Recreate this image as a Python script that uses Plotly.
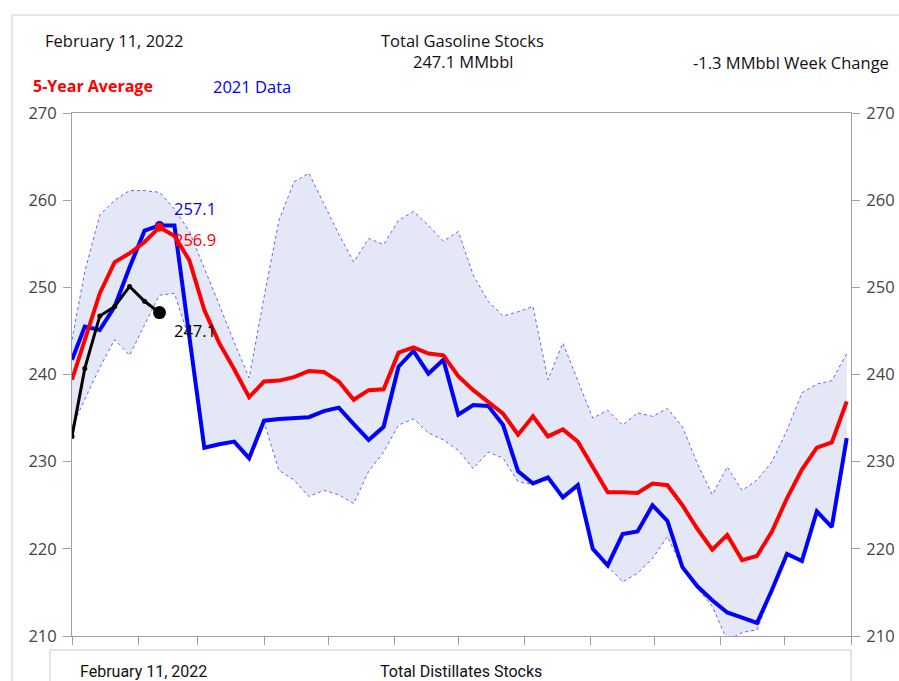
import pandas as pd
import plotly.graph_objects as go

# ---------------- data ----------------
# 2021 weekly data and 5-year stats, aligned to the 2022 calendar (first point Jan 1, then Fridays)
week_dates = [pd.Timestamp("2022-01-01")] + list(pd.date_range("2022-01-07", periods=52, freq="7D"))

data_2021 = [241.7,
             245.5, 245.1, 247.8, 252.3, 256.5, 257.1, 257.1, 244.3, 231.6, 232.0,
             232.3, 230.4, 234.7, 234.9, 235.0, 235.1, 235.8, 236.2, 234.3, 232.5,
             234.0, 240.9, 242.7, 240.1, 241.7, 235.4, 236.5, 236.4, 234.2, 228.9,
             227.5, 228.2, 225.9, 227.3, 220.0, 218.1, 221.7, 222.0, 225.0, 223.2,
             217.9, 215.7, 214.1, 212.7, 212.1, 211.5, 215.3, 219.4, 218.6, 224.3,
             222.5, 232.7]

avg_5yr = [239.4,
           243.9, 249.3, 252.9, 253.9, 255.2, 256.9, 255.9, 253.1, 247.4, 243.6,
           240.6, 237.4, 239.2, 239.3, 239.7, 240.4, 240.3, 239.2, 237.1, 238.2,
           238.3, 242.5, 243.1, 242.4, 242.2, 239.8, 238.2, 236.9, 235.5, 233.1,
           235.2, 232.9, 233.7, 232.3, 229.4, 226.5, 226.5, 226.4, 227.5, 227.3,
           225.0, 222.3, 219.9, 221.6, 218.7, 219.2, 222.0, 225.8, 229.1, 231.6,
           232.2, 236.9]

range_max = [244.0,
             251.8, 258.3, 260.0, 261.1, 261.1, 260.9, 259.0, 256.4, 252.3, 248.0,
             243.7, 239.6, 248.9, 257.7, 262.1, 263.1, 259.6, 256.1, 252.9, 255.6,
             254.9, 257.7, 258.7, 257.1, 255.3, 256.4, 251.4, 248.4, 246.7, 247.2,
             247.8, 239.4, 243.6, 239.4, 235.0, 235.9, 234.2, 235.6, 235.2, 236.1,
             234.0, 229.8, 226.2, 229.4, 226.7, 227.9, 230.0, 233.6, 237.9, 238.9,
             239.3, 242.4]

range_min = [234.0,
             237.2, 240.8, 244.0, 242.2, 245.7, 249.1, 249.3, 244.0, 231.5, 231.9,
             232.2, 230.3, 234.5, 229.0, 227.9, 226.0, 226.7, 226.2, 225.2, 228.9,
             231.1, 234.2, 234.9, 233.3, 232.5, 231.3, 229.2, 231.1, 230.4, 227.7,
             227.4, 227.9, 225.8, 227.1, 219.9, 218.0, 216.2, 217.2, 218.9, 221.4,
             217.8, 215.5, 213.4, 209.5, 210.4, 210.7, 215.2, 219.3, 218.5, 224.2,
             222.4, 232.5]

dates_2022 = ["2022-01-01", "2022-01-07", "2022-01-14", "2022-01-21",
              "2022-01-28", "2022-02-04", "2022-02-11"]
data_2022 = [232.9, 240.7, 246.7, 247.8, 250.1, 248.4, 247.1]

month_ticks = [f"2022-{m:02d}-01" for m in range(1, 13)] + ["2023-01-01"]
y_ticks = [210, 220, 230, 240, 250, 260, 270]

report_date = "February 11, 2022"
latest_date = "2022-02-11"
week_change = data_2022[-1] - data_2022[-2]

# ---------------- figure ----------------
BLUE = "#0000FF"
RED = "#FF0000"
BAND = "rgba(205,212,238,0.55)"
DOT = "rgba(70,70,255,0.85)"
AXC = "#a0a0a0"
FONT = "Open Sans, Noto Sans, DejaVu Sans, sans-serif"
HS = 16.5

fig = go.Figure()

fig.add_trace(go.Scatter(x=week_dates, y=range_min, mode="lines",
                         line=dict(color=DOT, width=1, dash="dot"),
                         hoverinfo="skip", showlegend=False))
fig.add_trace(go.Scatter(x=week_dates, y=range_max, mode="lines", fill="tonexty",
                         fillcolor=BAND,
                         line=dict(color=DOT, width=1, dash="dot"),
                         hoverinfo="skip", showlegend=False))

fig.add_trace(go.Scatter(x=week_dates, y=data_2021, mode="lines",
                         line=dict(color=BLUE, width=4), name="2021 Data",
                         showlegend=False))

idx = [d.strftime("%Y-%m-%d") for d in week_dates].index(latest_date)
fig.add_trace(go.Scatter(x=[week_dates[idx]], y=[data_2021[idx]], mode="markers",
                         marker=dict(color=BLUE, size=9), showlegend=False,
                         hoverinfo="skip"))

fig.add_trace(go.Scatter(x=week_dates, y=avg_5yr, mode="lines",
                         line=dict(color=RED, width=4), name="5-Year Average",
                         showlegend=False))
fig.add_trace(go.Scatter(x=[week_dates[idx]], y=[avg_5yr[idx]], mode="markers",
                         marker=dict(color=RED, size=9), showlegend=False,
                         hoverinfo="skip"))

fig.add_trace(go.Scatter(x=dates_2022, y=data_2022, mode="lines+markers",
                         line=dict(color="black", width=3),
                         marker=dict(color="black", size=5),
                         showlegend=False))
fig.add_trace(go.Scatter(x=[dates_2022[-1]], y=[data_2022[-1]], mode="markers",
                         marker=dict(color="black", size=13), showlegend=False))

# dummy trace for right axis
fig.add_trace(go.Scatter(x=[dates_2022[0]], y=[None], yaxis="y2",
                         mode="markers", showlegend=False, hoverinfo="skip"))

# value labels
fig.add_annotation(x=latest_date, y=data_2021[idx], text=f"{data_2021[idx]:.1f}",
                   showarrow=False, xanchor="left", yanchor="middle",
                   xshift=12, yshift=17, font=dict(color=BLUE, size=HS, family=FONT))
fig.add_annotation(x=latest_date, y=avg_5yr[idx], text=f"{avg_5yr[idx]:.1f}",
                   showarrow=False, xanchor="left", yanchor="middle",
                   xshift=12, yshift=-12, font=dict(color=RED, size=HS, family=FONT))
fig.add_annotation(x=dates_2022[-1], y=data_2022[-1], text=f"{data_2022[-1]:.1f}",
                   showarrow=False, xanchor="left", yanchor="middle",
                   xshift=12, yshift=-18, font=dict(color="black", size=HS, family=FONT))

# header texts (paper coords derived from pixel layout)
L, R, T, B = 72, 851, 113, 636
W, H = R - L, B - T
def px(x):
    return (x - L) / W
def py(y):
    return (B - y) / H

hdr = dict(showarrow=False, xref="paper", yref="paper", yanchor="middle")
fig.add_annotation(x=px(43), y=py(41), text=report_date, xanchor="left",
                   font=dict(size=HS, color="#111", family=FONT), **hdr)
fig.add_annotation(x=px(463), y=py(41), text="Total Gasoline Stocks", xanchor="center",
                   font=dict(size=HS, color="#111", family=FONT), **hdr)
fig.add_annotation(x=px(463), y=py(62), text=f"{data_2022[-1]:.1f} MMbbl", xanchor="center",
                   font=dict(size=HS, color="#111", family=FONT), **hdr)
fig.add_annotation(x=px(891), y=py(63), text=f"{week_change:.1f} MMbbl Week Change",
                   xanchor="right", font=dict(size=HS, color="#111", family=FONT), **hdr)
fig.add_annotation(x=px(31), y=py(86), text="<b>5-Year Average</b>", xanchor="left",
                   font=dict(size=16, color=RED, family=FONT), **hdr)
fig.add_annotation(x=px(211), y=py(86), text="2021 Data", xanchor="left",
                   font=dict(size=HS, color=BLUE, family=FONT), **hdr)

# next panel peeking in at the bottom
NFONT = "Liberation Sans Narrow, Roboto, sans-serif"
fig.add_annotation(x=px(78), y=py(671), text=report_date, xanchor="left",
                   font=dict(size=16, color="#111", family=NFONT), **hdr)
fig.add_annotation(x=px(378), y=py(671), text="Total Distillates Stocks", xanchor="left",
                   font=dict(size=16, color="#111", family=NFONT), **hdr)

FR = "#cccccc"
shp = dict(type="line", xref="paper", yref="paper", line=dict(color=FR, width=1))
fig.add_shape(x0=px(12), x1=px(12), y0=py(15), y1=py(690), **shp)
fig.add_shape(x0=px(12), x1=px(905), y0=py(15), y1=py(15), **shp)
fig.add_shape(x0=px(50), x1=px(851), y0=py(650), y1=py(650), **shp)
fig.add_shape(x0=px(50), x1=px(50), y0=py(650), y1=py(690), **shp)
fig.add_shape(x0=px(851), x1=px(851), y0=py(650), y1=py(690), **shp)

axis_common = dict(showgrid=False, zeroline=False, showline=True, linecolor=AXC,
                   linewidth=1, ticks="outside", ticklen=8, tickcolor=AXC,
                   automargin=False)

fig.update_layout(
    width=899, height=681,
    margin=dict(l=L, r=899 - R, t=T, b=681 - B),
    paper_bgcolor="white", plot_bgcolor="white",
    showlegend=False,
    xaxis=dict(type="date", range=["2022-01-01", "2023-01-01"],
               tickvals=month_ticks, showticklabels=False, mirror=True,
               **axis_common),
    yaxis=dict(range=[210, 270], tickvals=y_ticks,
               tickfont=dict(size=16.5, color="#444", family=FONT),
               ticklabelstandoff=3, **axis_common),
    yaxis2=dict(range=[210, 270], tickvals=y_ticks, overlaying="y", side="right",
                tickfont=dict(size=16.5, color="#444", family=FONT),
                ticklabelstandoff=3, **axis_common),
)

fig.write_html("out.html",
               config={"displayModeBar": False},
               post_script="document.body.style.margin='0';document.body.style.overflow='hidden';")
